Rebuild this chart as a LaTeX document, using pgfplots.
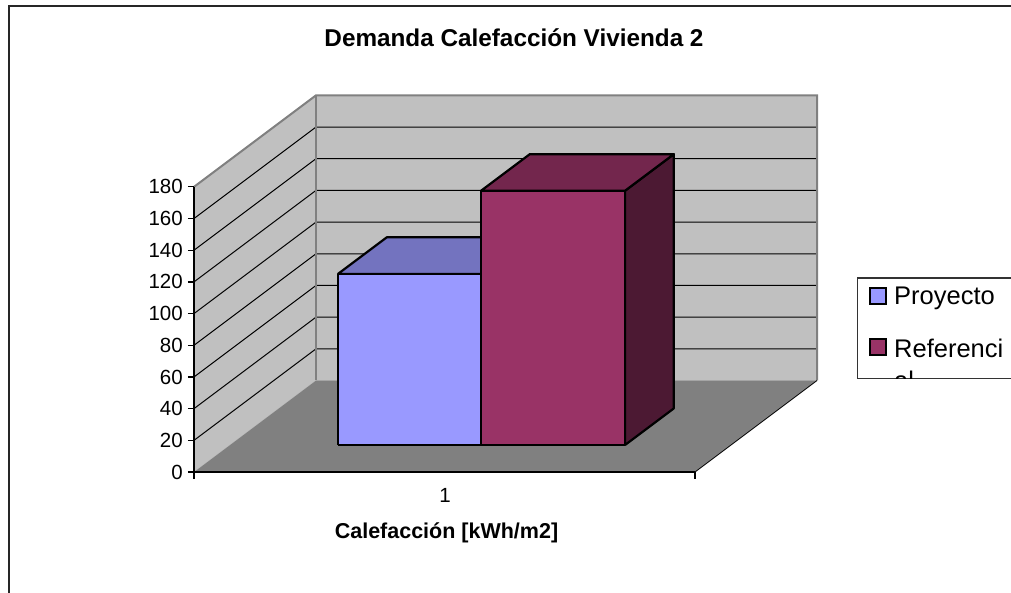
\documentclass[border=0pt]{standalone}
\usepackage{pgfplots}
\pgfplotsset{compat=1.18}
\usepackage{fontspec}
\setmainfont{Liberation Sans}
\definecolor{wall}{RGB}{192,192,192}
\definecolor{floorc}{RGB}{128,128,128}
\definecolor{pfront}{RGB}{153,153,255}
\definecolor{ptop}{RGB}{115,115,191}
\definecolor{pside}{RGB}{77,77,128}
\definecolor{rfront}{RGB}{153,51,102}
\definecolor{rtop}{RGB}{115,38,77}
\definecolor{rside}{RGB}{76,25,51}
\begin{document}
\begin{tikzpicture}
\useasboundingbox (-194pt,-121pt) rectangle (817pt,472pt);
\begin{axis}[anchor=origin, at={(0pt,0pt)},
  x={(1pt,0pt)}, y={(122pt,91.5pt)}, z={(0pt,1.584pt)},
  xmin=0,xmax=501,ymin=0,ymax=1,zmin=0,zmax=180,
  hide axis, clip=false]
% walls and floor
\addplot3[fill=wall, draw=none] coordinates {(0,0,0) (0,1,0) (0,1,180) (0,0,180) (0,0,0)};
\addplot3[fill=wall, draw=none] coordinates {(0,1,0) (501,1,0) (501,1,180) (0,1,180) (0,1,0)};
\addplot3[fill=floorc, draw=none] coordinates {(0,0,0) (501,0,0) (501,1,0) (0,1,0) (0,0,0)};
% gridlines
\pgfplotsinvokeforeach{20,40,60,80,100,120,140,160}{
  \addplot3[black, line width=1pt] coordinates {(0,0,#1) (0,1,#1) (501,1,#1)};
}
% wall edges
\addplot3[floorc, line width=2pt] coordinates {(0,0,180) (0,1,180) (501,1,180) (501,1,0)};
\addplot3[floorc, line width=2pt] coordinates {(0,1,0) (0,1,180)};
\addplot3[black, line width=0.8pt] coordinates {(501,0,0) (501,1,0)};
% axis lines and ticks
\addplot3[black, line width=1.3pt] coordinates {(0,0,180) (0,0,0) (501,0,0)};
\pgfplotsinvokeforeach{0,20,40,60,80,100,120,140,160,180}{
  \addplot3[black, line width=1.2pt] coordinates {(-6,0,#1) (0,0,#1)};
  \node[anchor=east, inner sep=0pt, font=\fontsize{20.5}{24}\selectfont] at (axis cs:-11,0,#1) {#1};
}
\addplot3[black, line width=1.2pt] coordinates {(0,0,-4.4) (0,0,0)};
\addplot3[black, line width=1.2pt] coordinates {(501,0,-4.4) (501,0,0)};
% Proyecto = 108
\addplot3[fill=pside, draw=black, line width=2.2pt, line join=round] coordinates {(251,0.295,0) (251,0.695,0) (251,0.695,108) (251,0.295,108) (251,0.295,0)};
\addplot3[fill=ptop, draw=black, line width=2.2pt, line join=round] coordinates {(108,0.295,108) (251,0.295,108) (251,0.695,108) (108,0.695,108) (108,0.295,108)};
\addplot3[fill=pfront, draw=black, line width=2.2pt, line join=round] coordinates {(108,0.295,0) (251,0.295,0) (251,0.295,108) (108,0.295,108) (108,0.295,0)};
% Referencial = 160.5
\addplot3[fill=rside, draw=black, line width=2.2pt, line join=round] coordinates {(395,0.295,0) (395,0.695,0) (395,0.695,160.5) (395,0.295,160.5) (395,0.295,0)};
\addplot3[fill=rtop, draw=black, line width=2.2pt, line join=round] coordinates {(251,0.295,160.5) (395,0.295,160.5) (395,0.695,160.5) (251,0.695,160.5) (251,0.295,160.5)};
\addplot3[fill=rfront, draw=black, line width=2.2pt, line join=round] coordinates {(251,0.295,0) (395,0.295,0) (395,0.295,160.5) (251,0.295,160.5) (251,0.295,0)};
\end{axis}
% frame
\draw[black!85, line width=1.5pt] (-185pt,-140pt) -- (-185pt,466pt) -- (840pt,466pt);
% texts
\node[anchor=base, inner sep=0pt, font=\fontsize{24.3}{29}\selectfont\bfseries] at (320pt,425pt) {Demanda Calefacción Vivienda 2};
\node[anchor=base, inner sep=0pt, font=\fontsize{20.5}{24}\selectfont] at (251pt,-31pt) {1};
\node[anchor=base, inner sep=0pt, font=\fontsize{21.5}{26}\selectfont\bfseries] at (252.5pt,-67pt) {Calefacción [kWh/m2]};
% legend
\begin{scope}
\clip (663pt,93pt) rectangle (840pt,194pt);
\draw[black!80, line width=1.2pt] (663pt,93pt) rectangle (845pt,194pt);
\draw[black, line width=1.3pt, fill=pfront] (676pt,168pt) rectangle (692pt,184pt);
\draw[black, line width=1.3pt, fill=rfront] (676pt,117pt) rectangle (692pt,133pt);
\node[anchor=base west, inner sep=0pt, font=\fontsize{25.5}{30}\selectfont] at (700pt,167pt) {Proyecto};
\node[anchor=base west, inner sep=0pt, font=\fontsize{25.5}{30}\selectfont] at (700pt,114pt) {Referenci};
\node[anchor=base west, inner sep=0pt, font=\fontsize{25.5}{30}\selectfont] at (700pt,82pt) {al};
\end{scope}
\end{tikzpicture}
\end{document}
